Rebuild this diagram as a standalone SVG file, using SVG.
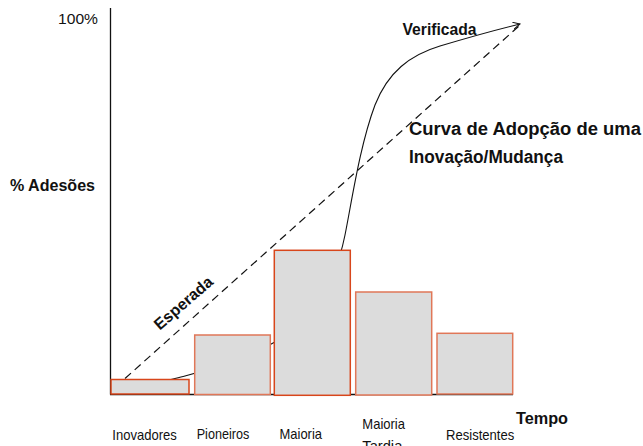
<svg xmlns="http://www.w3.org/2000/svg" width="643" height="446" viewBox="0 0 643 446">
<style>
.lbl{font-family:"Liberation Sans",Arial,sans-serif;font-size:15px;fill:#111}
.b{font-weight:bold}
.bar{fill:#dcdcdc;stroke-width:1.5}
.dk{stroke:#d8461b}
.lt{stroke:#e07758}
.ax{stroke:#111;stroke-width:1.3;fill:none}
</style>
<defs>
<marker id="ah" markerUnits="userSpaceOnUse" markerWidth="10" markerHeight="10" refX="7" refY="3.5" orient="auto">
<path d="M0,0 L7,3.5 L0,7" fill="none" stroke="#111" stroke-width="1"/>
</marker>
</defs>
<g id="axes">
<line class="ax" x1="110.5" y1="8" x2="110.5" y2="394.5"/>
<line class="ax" x1="110" y1="394.5" x2="513" y2="394.5"/>
</g>
<g id="connectors">
<path id="verificada-curve" d="M112 392 C140 388,165 381,185 376 C215 368,250 356,275 342 C310 320,335 285,345 235 C352 200,360 145,375 105 C388 72,410 55,440 46 C470 37,495 30,520 24" fill="none" stroke="#111" stroke-width="1.1" marker-end="url(#ah)"/>
<line id="esperada-line" x1="125" y1="378.5" x2="519" y2="26" stroke="#111" stroke-width="1.2" stroke-dasharray="8,5"/>
</g>
<g id="bar-inovadores"><rect class="bar dk" x="111" y="379.5" width="78" height="14.5"/></g>
<g id="bar-pioneiros"><rect class="bar lt" x="194.7" y="335" width="75.6" height="59.5"/></g>
<g id="bar-maioria"><rect class="bar dk" x="274.3" y="250.3" width="76" height="145"/></g>
<g id="bar-maioria-tardia"><rect class="bar lt" x="355.7" y="292" width="76" height="103"/></g>
<g id="bar-resistentes"><rect class="bar lt" x="437" y="333.3" width="75.7" height="60.7"/></g>
<g id="labels">
<text class="lbl" x="98" y="24" text-anchor="end" textLength="40" lengthAdjust="spacingAndGlyphs">100%</text>
<text class="lbl b" x="10" y="191" style="font-size:16px" textLength="85" lengthAdjust="spacingAndGlyphs">% Adesões</text>
<text class="lbl b" x="402.5" y="35" style="font-size:16px" textLength="74" lengthAdjust="spacingAndGlyphs">Verificada</text>
<text class="lbl b" x="409" y="135" style="font-size:18px" textLength="232" lengthAdjust="spacingAndGlyphs">Curva de Adopção de uma</text>
<text class="lbl b" x="409" y="162.5" style="font-size:18px" textLength="154" lengthAdjust="spacingAndGlyphs">Inovação/Mudança</text>
<text class="lbl b" x="187" y="307" text-anchor="middle" style="font-size:16px" transform="rotate(-41 187 307)">Esperada</text>
<text class="lbl b" x="516" y="424" style="font-size:16px" textLength="52" lengthAdjust="spacingAndGlyphs">Tempo</text>
<text class="lbl" x="112.3" y="440" textLength="64.5" lengthAdjust="spacingAndGlyphs">Inovadores</text>
<text class="lbl" x="196.7" y="438.5" textLength="52.6" lengthAdjust="spacingAndGlyphs">Pioneiros</text>
<text class="lbl" x="279.5" y="438.5" textLength="42.5" lengthAdjust="spacingAndGlyphs">Maioria</text>
<text class="lbl" x="362.3" y="429" textLength="42.7" lengthAdjust="spacingAndGlyphs">Maioria</text>
<text class="lbl" x="362.3" y="450.7" textLength="40" lengthAdjust="spacingAndGlyphs">Tardia</text>
<text class="lbl" x="446" y="440" textLength="68.3" lengthAdjust="spacingAndGlyphs">Resistentes</text>
</g>
</svg>
